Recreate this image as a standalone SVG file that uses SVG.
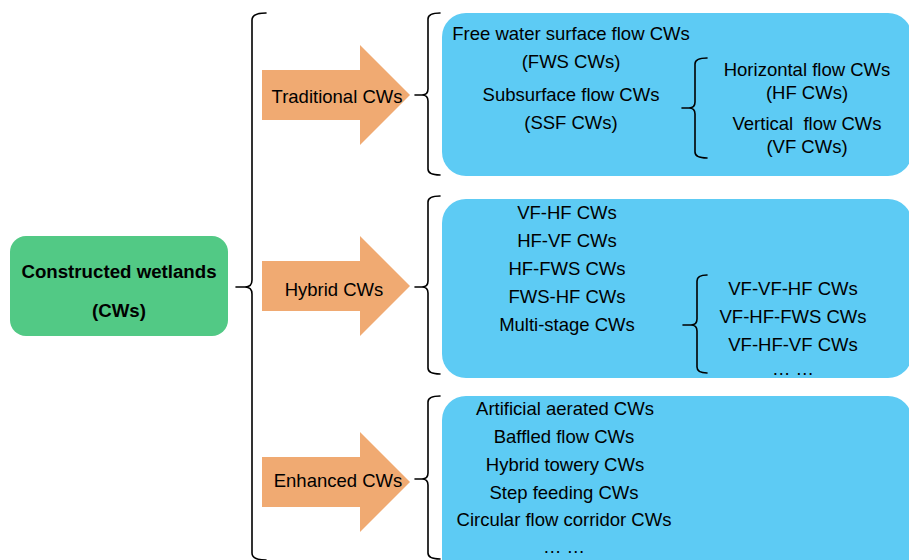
<svg xmlns="http://www.w3.org/2000/svg" width="909" height="560" viewBox="0 0 909 560">
  <style>
    text { font-family: "Liberation Sans", Arial, sans-serif; font-size: 18.5px; fill: #000; text-anchor: middle; }
    .title { font-weight: bold; font-size: 18.7px; }
    .brace { fill: none; stroke: #000; stroke-width: 1.6; stroke-linecap: round; stroke-linejoin: round; }
    .arrow { fill: #F0AA72; }
    .panel { fill: #5DCBF4; }
  </style>

  <!-- root node -->
  <g id="root">
    <rect x="10" y="236" width="218" height="100" rx="16" fill="#52C985"/>
    <text class="title" x="119" y="278">Constructed wetlands</text>
    <text class="title" x="119" y="317">(CWs)</text>
  </g>

  <!-- category arrows -->
  <g id="traditional">
    <polygon class="arrow" points="262,70 360,70 360,45 410,95 360,145 360,120 262,120"/>
    <text x="337" y="103">Traditional CWs</text>
  </g>
  <g id="hybrid">
    <polygon class="arrow" points="262,261 360,261 360,236 410,286 360,336 360,311 262,311"/>
    <text x="334" y="296">Hybrid CWs</text>
  </g>
  <g id="enhanced">
    <polygon class="arrow" points="262,457 360,457 360,432 410,482 360,532 360,507 262,507"/>
    <text x="338" y="487">Enhanced CWs</text>
  </g>

  <!-- traditional types -->
  <g id="traditional-types">
    <rect class="panel" x="442" y="13" width="470" height="163" rx="24"/>
    <text x="571" y="40">Free water surface flow CWs</text>
    <text x="571" y="68">(FWS CWs)</text>
    <text x="571" y="101">Subsurface flow CWs</text>
    <text x="571" y="129">(SSF CWs)</text>
    <text x="807" y="76">Horizontal flow CWs</text>
    <text x="807" y="99">(HF CWs)</text>
    <text x="807" y="130" xml:space="preserve">Vertical  flow CWs</text>
    <text x="807" y="153">(VF CWs)</text>
  </g>

  <!-- hybrid types -->
  <g id="hybrid-types">
    <rect class="panel" x="442" y="199" width="470" height="179" rx="24"/>
    <text x="567" y="219">VF-HF CWs</text>
    <text x="567" y="247">HF-VF CWs</text>
    <text x="567" y="275">HF-FWS CWs</text>
    <text x="567" y="303">FWS-HF CWs</text>
    <text x="567" y="331">Multi-stage CWs</text>
    <text x="793" y="295">VF-VF-HF CWs</text>
    <text x="793" y="323">VF-HF-FWS CWs</text>
    <text x="793" y="351">VF-HF-VF CWs</text>
    <text x="793" y="375">… …</text>
  </g>

  <!-- enhanced types -->
  <g id="enhanced-types">
    <rect class="panel" x="442" y="396" width="470" height="190" rx="24"/>
    <text x="565" y="415">Artificial aerated CWs</text>
    <text x="564" y="443">Baffled flow CWs</text>
    <text x="565" y="471">Hybrid towery CWs</text>
    <text x="564" y="499">Step feeding CWs</text>
    <text x="564" y="526">Circular flow corridor CWs</text>
    <text x="564" y="553">… …</text>
  </g>

  <!-- connectors: braces (drawn last so they sit above the panels) -->
  <g id="connectors">
    <!-- main brace -->
    <path class="brace" d="M266,13 Q252,13 252,20 L252,280 Q252,287 245,287 L236,287 M245,287 Q252,287 252,294 L252,553 Q252,560 266,560"/>
    <!-- traditional brace -->
    <path class="brace" d="M440,13 Q428,13 428,19 L428,89 Q428,95 422,95 L415,95 M422,95 Q428,95 428,101 L428,169 Q428,175 440,175"/>
    <!-- hybrid brace -->
    <path class="brace" d="M440,196 Q428,196 428,202 L428,281 Q428,287 422,287 L415,287 M422,287 Q428,287 428,293 L428,368 Q428,374 440,374"/>
    <!-- enhanced brace -->
    <path class="brace" d="M440,396 Q428,396 428,402 L428,473 Q428,479 422,479 L415,479 M422,479 Q428,479 428,485 L428,553 Q428,559 440,559"/>
    <!-- SSF sub-brace -->
    <path class="brace" d="M707,58 Q695,58 695,64 L695,102 Q695,108 689,108 L682,108 M689,108 Q695,108 695,114 L695,152 Q695,158 707,158"/>
    <!-- multi-stage sub-brace -->
    <path class="brace" d="M707,275 Q697,275 697,281 L697,319 Q697,325 691,325 L683,325 M691,325 Q697,325 697,331 L697,367 Q697,373 707,373"/>
  </g>
</svg>
